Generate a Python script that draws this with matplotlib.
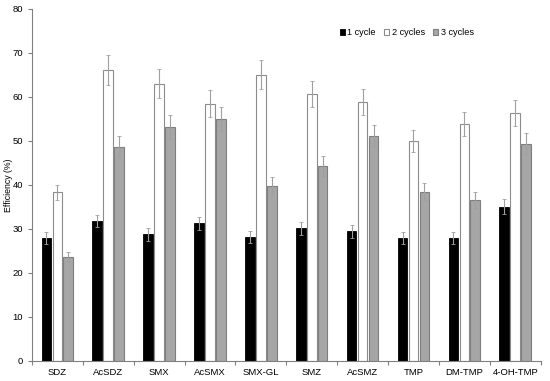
import matplotlib
matplotlib.use("Agg")
import matplotlib.pyplot as plt
import numpy as np

plt.rcParams["font.family"] = ["Liberation Sans", "DejaVu Sans"]

compounds = ["SDZ", "AcSDZ", "SMX", "AcSMX", "SMX-GL", "SMZ", "AcSMZ", "TMP", "DM-TMP", "4-OH-TMP"]
cycle1 = [28.0, 31.8, 28.8, 31.3, 28.2, 30.2, 29.5, 28.0, 28.0, 35.1]
cycle2 = [38.3, 66.2, 63.0, 58.5, 65.1, 60.7, 58.8, 50.0, 53.8, 56.3]
cycle3 = [23.6, 48.7, 53.1, 55.0, 39.7, 44.3, 51.2, 38.5, 36.5, 49.3]
err1 = [1.3, 1.4, 1.5, 1.5, 1.4, 1.5, 1.5, 1.4, 1.3, 1.6]
err2 = [1.8, 3.4, 3.3, 3.0, 3.3, 3.0, 2.9, 2.5, 2.7, 2.9]
err3 = [1.2, 2.4, 2.7, 2.7, 2.0, 2.3, 2.5, 2.0, 1.8, 2.5]
labels = ["1 cycle", "2 cycles", "3 cycles"]

fig = plt.figure(figsize=(5.5, 3.81), dpi=100)
ax = fig.add_axes([0.058, 0.0525, 0.925, 0.924])

x = np.arange(len(compounds))
w = 0.19
gap = 0.215
ekw = dict(ecolor="#a0a0a0", elinewidth=0.8, capsize=1.2, capthick=0.6)
ax.bar(x - gap, cycle1, w, yerr=err1, color="black", edgecolor="black", linewidth=0.6, label=labels[0], error_kw=ekw)
ax.bar(x, cycle2, w, yerr=err2, color="white", edgecolor="#8c8c8c", linewidth=0.8, label=labels[1], error_kw=ekw)
ax.bar(x + gap, cycle3, w, yerr=err3, color="#a6a6a6", edgecolor="#7f7f7f", linewidth=0.8, label=labels[2], error_kw=ekw)

ax.set_ylim(0, 80)
ax.set_xlim(-0.5, len(compounds) - 0.5)
ax.set_yticks(range(0, 81, 10))
ax.set_xticks(x)
ax.set_xticklabels(compounds)
ax.set_xticks(np.arange(-0.5, len(compounds), 1), minor=True)
ax.tick_params(axis="x", which="major", length=0, labelsize=6.8, pad=5)
ax.tick_params(axis="x", which="minor", length=3, color="#808080", width=0.8)
ax.tick_params(axis="y", length=3, color="#808080", width=0.8, labelsize=6.8)
for s in ["top", "right"]:
    ax.spines[s].set_visible(False)
for s in ["left", "bottom"]:
    ax.spines[s].set_color("#808080")
    ax.spines[s].set_linewidth(0.8)
ax.set_ylabel("Efficiency (%)", fontsize=6.3)
ax.yaxis.set_label_coords(-0.038, 0.5)

ax.legend(loc="upper right", bbox_to_anchor=(0.882, 0.963), ncol=3, frameon=False, fontsize=6.6,
          handlelength=0.55, handleheight=0.55, handletextpad=0.3, columnspacing=0.9, borderpad=0.2)

fig.savefig("out.png", dpi=100)
